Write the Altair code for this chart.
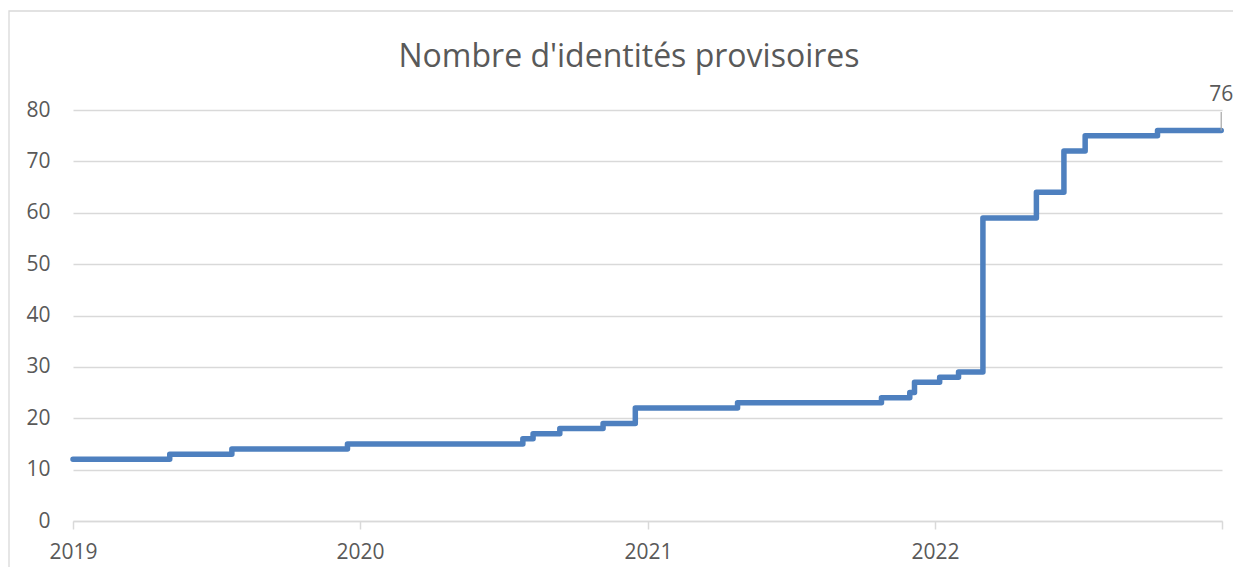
import altair as alt
import pandas as pd

dates = [
    "2019-01-01", "2019-05-04", "2019-07-22", "2019-12-16",
    "2020-07-26", "2020-08-08", "2020-09-11", "2020-11-05", "2020-12-16",
    "2021-04-25", "2021-10-25", "2021-11-30", "2021-12-06",
    "2022-01-07", "2022-01-31", "2022-03-03", "2022-05-10", "2022-06-14",
    "2022-07-11", "2022-10-11", "2022-12-31",
]
values = [12, 13, 14, 15, 16, 17, 18, 19, 22, 23, 24, 25, 27, 28, 29, 59, 64, 72, 75, 76, 76]
tick_dates = ["2019-01-01", "2020-01-01", "2021-01-01", "2022-01-01", "2023-01-01"]
y_ticks = [0, 10, 20, 30, 40, 50, 60, 70, 80]
last_label = "76"
title_text = "Nombre d'identités provisoires"

df = pd.DataFrame({"date": pd.to_datetime(dates), "value": values})
last = df.tail(1).assign(label=last_label)

FONT = "Open Sans"
GREY = "#595959"
GRID = "#d9d9d9"
LABEL_SIZE = 21

x_scale = alt.Scale(domain=[pd.Timestamp("2019-01-01").isoformat(), pd.Timestamp("2023-01-01").isoformat()])
y_scale = alt.Scale(domain=[0, 80])

x_enc = alt.X(
    "date:T", scale=x_scale, title=None,
    axis=alt.Axis(
        values=[pd.Timestamp(d).isoformat() for d in tick_dates],
        labelExpr="year(datum.value) >= 2023 ? '' : timeFormat(datum.value, '%Y')",
        grid=False, domainColor=GRID, domainWidth=1.5, tickColor=GRID, tickWidth=1.5,
        tickSize=8, labelPadding=12, labelFont=FONT, labelFontSize=LABEL_SIZE, labelColor=GREY,
        labelFlush=False,
    ),
)
y_enc = alt.Y(
    "value:Q", scale=y_scale, title=None,
    axis=alt.Axis(
        values=y_ticks, grid=True, gridColor=GRID, gridWidth=1.3, domain=False, ticks=False,
        labelPadding=23, labelFont=FONT, labelFontSize=LABEL_SIZE, labelColor=GREY,
    ),
)

frame = alt.Chart(pd.DataFrame({"k": [0]})).mark_rect(
    fill=None, stroke=GRID, strokeWidth=1.3
).encode(
    x=alt.value(-64), x2=alt.value(1200), y=alt.value(-99), y2=alt.value(520)
)

title = alt.Chart(pd.DataFrame({"t": [title_text]})).mark_text(
    font=FONT, fontSize=32, color=GREY, baseline="middle", align="center"
).encode(x=alt.value(556), y=alt.value(-53), text="t:N")

line = alt.Chart(df).mark_line(
    interpolate="step-after", color="#4e80bf", strokeWidth=5.5, strokeCap="round", strokeJoin="round"
).encode(x=x_enc, y=y_enc)

leader = alt.Chart(last).mark_rule(color="#a6a6a6", strokeWidth=1.2).encode(
    x="date:T", y="value:Q",
    x2=alt.datum(pd.Timestamp("2023-01-05").isoformat()), y2=alt.datum(79.6),
)

label = alt.Chart(last).mark_text(
    font=FONT, fontSize=LABEL_SIZE, color=GREY, dy=-36, dx=0
).encode(x="date:T", y="value:Q", text="label:N")

chart = alt.layer(frame, title, line, leader, label).properties(
    width=1149, height=411,
    padding={"left": 65, "top": 102, "right": 11, "bottom": 46},
    autosize=alt.AutoSizeParams(type="none"),
).configure_view(stroke=None)

chart.save("out.html", embed_options={"renderer": "svg", "actions": False})
